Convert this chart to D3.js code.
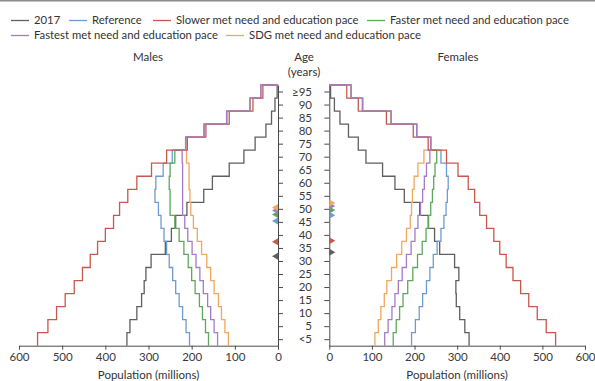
<!DOCTYPE html>
<html>
<head>
<meta charset="utf-8">
<script src="https://cdn.jsdelivr.net/npm/d3@7"></script>
<style>
  body { margin: 0; background: #fff; }
  svg { font-family: Lato, "Open Sans", sans-serif; display: block; }
  .axis path, .axis line { stroke: #4a4a4a; }
  .axis text { fill: #3a3a3a; font-size: 11.5px; font-family: Lato, sans-serif; }
</style>
</head>
<body>
<svg id="chart"></svg>
<script>
// Age groups (youngest first) and x tick values
var ageGroups = ["<5", "5", "10", "15", "20", "25", "30", "35", "40", "45",
                 "50", "55", "60", "65", "70", "75", "80", "85", "90", "\u226595"];
var popTicks = [0, 100, 200, 300, 400, 500, 600];

// Population in millions per age group, males
var males2017    = [350, 343, 327, 316, 310, 306, 294, 261, 247, 237, 211, 172, 152, 113, 79, 53, 28, 15, 7, 2];
var malesRef     = [205, 213, 221, 229, 237, 244, 252, 258, 264, 271, 277, 285, 283, 266, 245, 214, 171, 119, 65, 40];
var malesSlower  = [557, 533, 513, 493, 472, 453, 435, 418, 400, 381, 367, 348, 327, 293, 258, 210, 167, 113, 58, 35];
var malesFaster  = [161, 168, 175, 182, 192, 200, 208, 218, 229, 239, 250, 250, 252, 250, 239, 214, 171, 119, 65, 40];
var malesFastest = [140, 148, 156, 163, 173, 181, 190, 199, 209, 216, 221, 221, 221, 221, 222, 214, 171, 119, 65, 40];
var malesSDG     = [115, 123, 131, 138, 148, 156, 165, 177, 187, 196, 202, 204, 206, 206, 212, 214, 171, 119, 65, 40];

// Population in millions per age group, females
var females2017    = [328, 318, 306, 298, 297, 304, 294, 259, 247, 232, 212, 176, 154, 125, 86, 68, 45, 25, 12, 3];
var femalesRef     = [193, 202, 211, 219, 228, 236, 244, 253, 262, 269, 274, 277, 279, 275, 262, 238, 205, 145, 78, 51];
var femalesSlower  = [531, 509, 488, 468, 449, 431, 415, 400, 386, 369, 353, 341, 326, 302, 275, 232, 197, 134, 68, 41];
var femalesFaster  = [150, 157, 165, 173, 184, 196, 207, 218, 227, 233, 238, 242, 245, 248, 252, 238, 205, 145, 78, 51];
var femalesFastest = [130, 138, 147, 154, 162, 171, 181, 192, 201, 208, 214, 219, 223, 228, 236, 238, 205, 145, 78, 51];
var femalesSDG     = [107, 115, 121, 129, 135, 146, 158, 170, 181, 190, 193, 195, 199, 208, 222, 238, 205, 145, 78, 51];

// Median age markers (years)
var medianMales   = [34.3, 47.8, 39.9, 50.3, 51.9, 53.0];
var medianFemales = [35.8, 50.0, 40.3, 52.1, 53.6, 54.7];

var seriesNames = ["2017", "Reference", "Slower met need and education pace",
                   "Faster met need and education pace", "Fastest met need and education pace",
                   "SDG met need and education pace"];
var seriesColors = ["#5f5f5f", "#6e9bd1", "#c9584c", "#5fa75c", "#a27cc6", "#f2a65e"];

var series = seriesNames.map(function(name, i) {
  return {
    name: name,
    color: seriesColors[i],
    males: [males2017, malesRef, malesSlower, malesFaster, malesFastest, malesSDG][i],
    females: [females2017, femalesRef, femalesSlower, femalesFaster, femalesFastest, femalesSDG][i],
    medM: medianMales[i],
    medF: medianFemales[i]
  };
});

var width = 595, height = 381;
var svg = d3.select("#chart").attr("width", width).attr("height", height);

// thin rule at the very top
svg.append("rect").attr("x", 0).attr("y", 0).attr("width", width).attr("height", 1.5).attr("fill", "#8a8a8a");

// Scales
var ageScale = d3.scaleLinear().domain([0, 100]).range([345.7, 85]);
var xMale = d3.scaleLinear().domain([0, 600]).range([278, 19]);
var xFemale = d3.scaleLinear().domain([0, 600]).range([329.3, 585]);

// X axes
svg.append("g")
  .attr("class", "axis")
  .attr("transform", "translate(0," + ageScale(0) + ")")
  .call(d3.axisBottom(xMale).tickValues(popTicks).tickSize(4).tickSizeOuter(0).tickPadding(3));

svg.append("g")
  .attr("class", "axis")
  .attr("transform", "translate(0," + ageScale(0) + ")")
  .call(d3.axisBottom(xFemale).tickValues(popTicks).tickSize(4).tickSizeOuter(0).tickPadding(3));

// Y axes (ticks at the middle of each age band)
var bandMids = ageGroups.map(function(d, i) { return i * 5 + 2.5; });

svg.append("g")
  .attr("class", "axis")
  .attr("transform", "translate(" + xMale(0) + ",0)")
  .call(d3.axisRight(ageScale).tickValues(bandMids).tickSize(5).tickSizeOuter(0).tickFormat(""));

svg.append("g")
  .attr("class", "axis")
  .attr("transform", "translate(" + xFemale(0) + ",0)")
  .call(d3.axisLeft(ageScale).tickValues(bandMids).tickSize(5).tickSizeOuter(0).tickFormat(""));

// Age labels in the middle
svg.selectAll(".age-label")
  .data(ageGroups)
  .enter()
  .append("text")
  .attr("class", "age-label")
  .attr("x", 312)
  .attr("y", function(d, i) { return ageScale(i * 5 + 2.5); })
  .attr("dy", "0.35em")
  .attr("text-anchor", "end")
  .attr("fill", "#3a3a3a")
  .style("font-size", "11.5px")
  .text(function(d) { return d; });

// Step outlines
function stepPoints(values) {
  var pts = [];
  values.forEach(function(v, i) {
    pts.push([v, i * 5]);
    pts.push([v, i * 5 + 5]);
  });
  pts.push([0, 100]);
  return pts;
}

var maleLine = d3.line()
  .x(function(d) { return xMale(d[0]); })
  .y(function(d) { return ageScale(d[1]); });

var femaleLine = d3.line()
  .x(function(d) { return xFemale(d[0]); })
  .y(function(d) { return ageScale(d[1]); });

// draw order: purple last so it sits on top at older ages
var drawOrder = [0, 1, 3, 5, 2, 4];

drawOrder.forEach(function(k) {
  var s = series[k];
  svg.append("path")
    .attr("d", maleLine(stepPoints(s.males)))
    .attr("fill", "none")
    .attr("stroke", s.color)
    .attr("stroke-width", 1.3);
  svg.append("path")
    .attr("d", femaleLine(stepPoints(s.females)))
    .attr("fill", "none")
    .attr("stroke", s.color)
    .attr("stroke-width", 1.3);
});

// Median age triangles
series.forEach(function(s) {
  var x0 = xMale(0), yM = ageScale(s.medM);
  svg.append("path")
    .attr("d", "M" + x0 + "," + (yM - 3.5) + "L" + (x0 - 6) + "," + yM + "L" + x0 + "," + (yM + 3.5) + "Z")
    .attr("fill", s.color);
  var x1 = xFemale(0), yF = ageScale(s.medF);
  svg.append("path")
    .attr("d", "M" + x1 + "," + (yF - 3.5) + "L" + (x1 + 6) + "," + yF + "L" + x1 + "," + (yF + 3.5) + "Z")
    .attr("fill", s.color);
});

// Titles
svg.append("text").attr("x", 148).attr("y", 61).attr("text-anchor", "middle")
  .attr("fill", "#333").style("font-size", "11.5px").text("Males");
svg.append("text").attr("x", 458).attr("y", 61).attr("text-anchor", "middle")
  .attr("fill", "#333").style("font-size", "11.5px").text("Females");
svg.append("text").attr("x", 304).attr("y", 61).attr("text-anchor", "middle")
  .attr("fill", "#333").style("font-size", "11.5px").text("Age");
svg.append("text").attr("x", 304).attr("y", 76).attr("text-anchor", "middle")
  .attr("fill", "#333").style("font-size", "11.5px").text("(years)");

// Axis titles
svg.append("text").attr("x", 148.5).attr("y", 379).attr("text-anchor", "middle")
  .attr("fill", "#333").style("font-size", "11.5px").text("Population (millions)");
svg.append("text").attr("x", 457).attr("y", 379).attr("text-anchor", "middle")
  .attr("fill", "#333").style("font-size", "11.5px").text("Population (millions)");

// Legend
var legendPos = [[11, 20.5], [69, 20.5], [153, 20.5], [367, 20.5], [11, 35.5], [226, 35.5]];

var legend = svg.selectAll(".legend")
  .data(series)
  .enter()
  .append("g")
  .attr("class", "legend")
  .attr("transform", function(d, i) { return "translate(" + legendPos[i][0] + "," + legendPos[i][1] + ")"; });

legend.append("line")
  .attr("x1", 0).attr("x2", 18)
  .attr("stroke", function(d) { return d.color; })
  .attr("stroke-width", 1.3);

legend.append("text")
  .attr("x", 23)
  .attr("dy", "0.35em")
  .attr("fill", "#333")
  .style("font-size", "11.3px")
  .text(function(d) { return d.name; });
</script>
</body>
</html>
